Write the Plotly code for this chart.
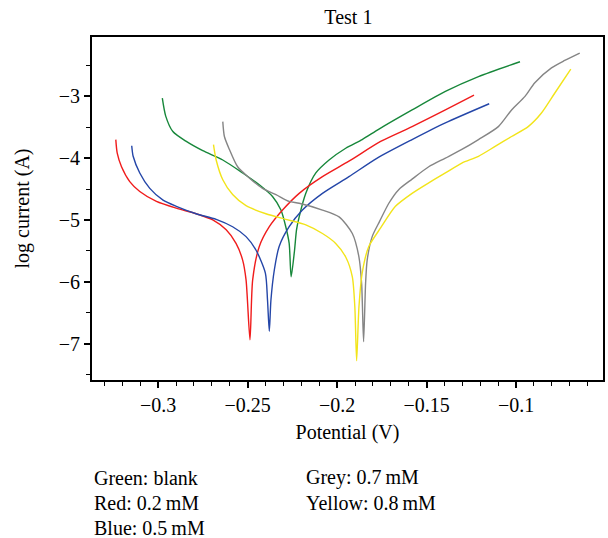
import plotly.graph_objects as go

# Potential (V) and log current (A) for each curve
green_x = [-0.2977, -0.2958, -0.2918, -0.2843, -0.2751, -0.2639, -0.2528, -0.2435, -0.2361, -0.2314,
           -0.2287, -0.2268, -0.2257, -0.2238, -0.2227, -0.2212, -0.2175, -0.2119, -0.2045, -0.1952,
           -0.1860, -0.1766, -0.1581, -0.1395, -0.1210, -0.0978]
green_y = [-3.03, -3.32, -3.57, -3.73, -3.88, -4.03, -4.24, -4.43, -4.62, -4.84,
           -5.11, -5.38, -5.92, -5.49, -5.16, -4.95, -4.57, -4.24, -4.03, -3.84,
           -3.70, -3.53, -3.22, -2.92, -2.68, -2.44]

red_x = [-0.3237, -0.3229, -0.3205, -0.3159, -0.3103, -0.3010, -0.2899, -0.2788, -0.2695, -0.2620,
         -0.2565, -0.2528, -0.2509, -0.2487, -0.2472, -0.2435, -0.2379, -0.2305, -0.2212, -0.2082,
         -0.1934, -0.1757, -0.1581, -0.1395, -0.1235]
red_y = [-3.70, -3.92, -4.14, -4.38, -4.54, -4.70, -4.81, -4.90, -5.00, -5.16,
         -5.38, -5.65, -5.97, -6.94, -5.97, -5.43, -5.11, -4.84, -4.57, -4.30,
         -4.05, -3.73, -3.49, -3.22, -2.98]

blue_x = [-0.3148, -0.3140, -0.3103, -0.3047, -0.2973, -0.2899, -0.2788, -0.2676, -0.2584, -0.2509,
          -0.2453, -0.2401, -0.2389, -0.2379, -0.2370, -0.2351, -0.2324, -0.2268, -0.2194, -0.2082,
          -0.1934, -0.1776, -0.1581, -0.1395, -0.1150]
blue_y = [-3.80, -3.97, -4.24, -4.49, -4.68, -4.78, -4.90, -4.99, -5.11, -5.27,
          -5.49, -5.86, -6.30, -6.80, -6.30, -5.81, -5.43, -5.11, -4.84, -4.57,
          -4.30, -4.00, -3.70, -3.43, -3.12]

grey_x = [-0.2639, -0.2630, -0.2602, -0.2556, -0.2491, -0.2417, -0.2342, -0.2268, -0.2212, -0.2082,
          -0.1989, -0.1915, -0.1878, -0.1863, -0.1852, -0.1841, -0.1832, -0.1804, -0.1762, -0.1711,
          -0.1656, -0.1581, -0.1488, -0.1395, -0.1303, -0.1210, -0.1099, -0.1025, -0.0950, -0.0895,
          -0.0802, -0.0728, -0.0644]
grey_y = [-3.41, -3.65, -3.86, -4.14, -4.32, -4.49, -4.59, -4.70, -4.73, -4.84,
          -4.95, -5.22, -5.60, -6.03, -6.97, -6.03, -5.65, -5.27, -5.02, -4.73,
          -4.51, -4.34, -4.14, -4.00, -3.86, -3.70, -3.49, -3.22, -3.00, -2.78,
          -2.54, -2.42, -2.30]

yellow_x = [-0.2691, -0.2676, -0.2639, -0.2584, -0.2509, -0.2398, -0.2287, -0.2175, -0.2082, -0.2008,
            -0.1952, -0.1915, -0.1901, -0.1891, -0.1878, -0.1860, -0.1823, -0.1757, -0.1674, -0.1581,
            -0.1488, -0.1395, -0.1303, -0.1210, -0.1117, -0.1025, -0.0932, -0.0858, -0.0784, -0.0694]
yellow_y = [-3.78, -4.03, -4.35, -4.59, -4.77, -4.90, -4.99, -5.08, -5.22, -5.38,
            -5.60, -5.92, -6.41, -7.28, -6.41, -5.86, -5.43, -5.13, -4.78, -4.57,
            -4.40, -4.24, -4.08, -3.97, -3.81, -3.65, -3.49, -3.27, -2.95, -2.56]

series = [
    ("Green: blank", green_x, green_y, "#17873a"),
    ("Red: 0.2 mM", red_x, red_y, "#f01c1c"),
    ("Blue: 0.5 mM", blue_x, blue_y, "#2446a8"),
    ("Grey: 0.7 mM", grey_x, grey_y, "#858585"),
    ("Yellow: 0.8 mM", yellow_x, yellow_y, "#f2e41a"),
]

legend_text = ["Green: blank", "Red: 0.2\u2009mM", "Blue: 0.5\u2009mM",
               "Grey: 0.7\u2009mM", "Yellow: 0.8\u2009mM"]

FONT = "Liberation Serif"
FS = 20

fig = go.Figure()
for name, xs, ys, col in series:
    fig.add_trace(go.Scatter(x=xs, y=ys, mode="lines", name=name,
                             line=dict(color=col, width=1.4, shape="spline", smoothing=0.7),
                             showlegend=False))

axis_common = dict(showline=True, linewidth=2, linecolor="black", mirror=True,
                   showgrid=False, zeroline=False, ticks="outside", ticklen=6,
                   tickwidth=1.5, tickcolor="black",
                   tickfont=dict(family=FONT, size=FS, color="black"))

fig.update_xaxes(range=[-0.337, -0.0514], tick0=0, dtick=0.05,
                 minor=dict(dtick=0.01, ticks="outside", ticklen=4, tickwidth=1.2, tickcolor="black"),
                 title=dict(text="Potential (V)", font=dict(family=FONT, size=FS, color="black"),
                            standoff=10),
                 **axis_common)
fig.update_yaxes(range=[-7.59, -2.04], tick0=0, dtick=1,
                 minor=dict(dtick=0.5, ticks="outside", ticklen=4, tickwidth=1.2, tickcolor="black"),
                 title=dict(text="log current (A)", font=dict(family=FONT, size=FS, color="black"),
                            standoff=24),
                 **axis_common)

# legend-like text block below the chart
pos = [(0.0, -0.285), (0.0, -0.358), (0.0, -0.431), (0.415, -0.285), (0.415, -0.358)]
for txt, (px, py) in zip(legend_text, pos):
    fig.add_annotation(text=txt, xref="paper", yref="paper", x=px, y=py,
                       xanchor="left", yanchor="middle", showarrow=False,
                       font=dict(family=FONT, size=FS, color="black"))

fig.update_layout(
    width=608, height=538,
    margin=dict(l=92, r=3, t=37, b=158),
    paper_bgcolor="white", plot_bgcolor="white",
    title=dict(text="Test 1", x=0.573, xanchor="center", y=0.968, yanchor="middle",
               font=dict(family=FONT, size=FS, color="black")),
)

fig.write_html("out.html")
